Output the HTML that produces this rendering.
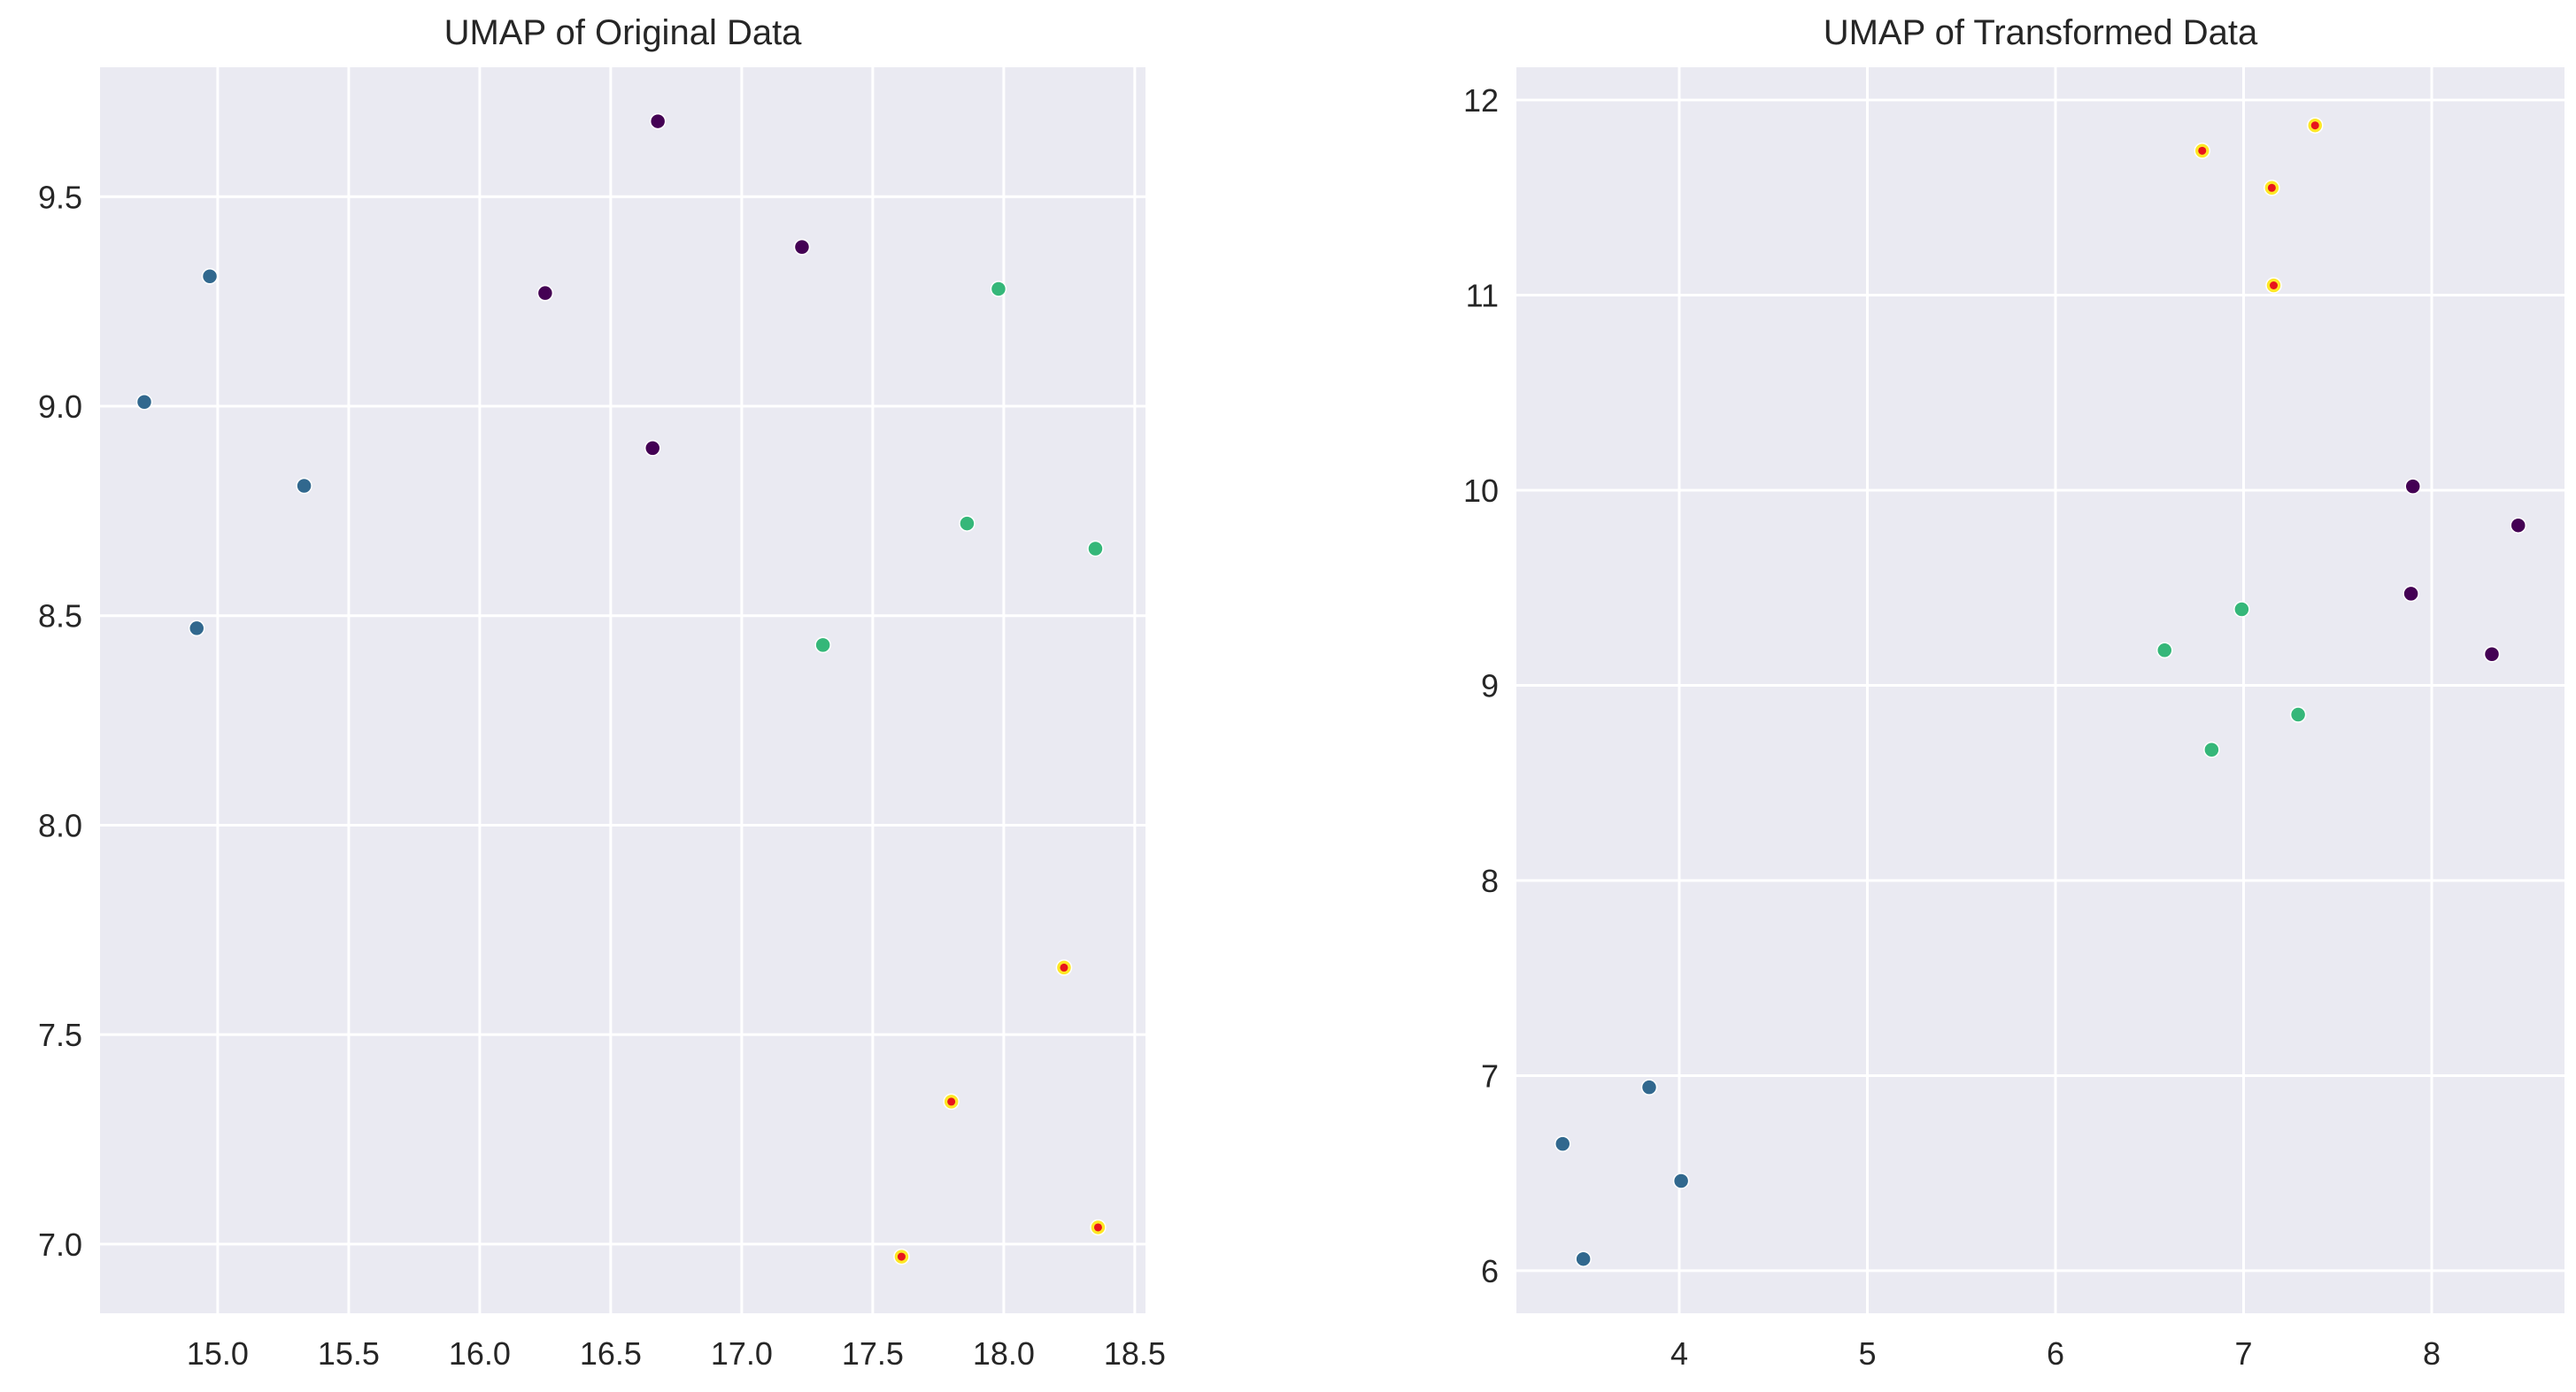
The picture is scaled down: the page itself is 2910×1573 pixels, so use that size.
<!DOCTYPE html>
<html><head><meta charset="utf-8">
<style>
html,body{margin:0;padding:0;background:#fff;}
svg{display:block;font-family:"Liberation Sans",sans-serif;}
</style></head>
<body>
<svg id="fig" width="2910" height="1573" viewBox="0 0 2910 1573" xmlns="http://www.w3.org/2000/svg"></svg>
<script>
// Left panel data
const leftXTicks = [15.0, 15.5, 16.0, 16.5, 17.0, 17.5, 18.0, 18.5];
const leftYTicks = [7.0, 7.5, 8.0, 8.5, 9.0, 9.5];
const leftXs = [14.72, 14.97, 15.33, 14.92, 16.68, 17.23, 16.25, 16.66, 17.98, 17.86, 18.35, 17.31, 18.23, 17.80, 18.36, 17.61];
const leftYs = [9.01, 9.31, 8.81, 8.47, 9.68, 9.38, 9.27, 8.90, 9.28, 8.72, 8.66, 8.43, 7.66, 7.34, 7.04, 6.97];
const leftCls = [1,1,1,1, 0,0,0,0, 2,2,2,2, 3,3,3,3];
// Right panel data
const rightXTicks = [4, 5, 6, 7, 8];
const rightYTicks = [6, 7, 8, 9, 10, 11, 12];
const rightXs = [6.78, 7.38, 7.15, 7.16, 7.90, 8.46, 7.89, 8.32, 6.99, 6.58, 7.29, 6.83, 3.38, 3.84, 4.01, 3.49];
const rightYs = [11.74, 11.87, 11.55, 11.05, 10.02, 9.82, 9.47, 9.16, 9.39, 9.18, 8.85, 8.67, 6.65, 6.94, 6.46, 6.06];
const rightCls = [3,3,3,3, 0,0,0,0, 2,2,2,2, 1,1,1,1];
const palette = ['#440154', '#31688e', '#35b779', '#fde725'];

const NS = 'http://www.w3.org/2000/svg';
const svg = document.getElementById('fig');
function mk(tag, attrs, parent) {
  const e = document.createElementNS(NS, tag);
  for (const k in attrs) e.setAttribute(k, attrs[k]);
  (parent || svg).appendChild(e);
  return e;
}
function panel(p) {
  const g = mk('g', {});
  
  
  const sx = v => p.x0 + (v - p.xmin) / (p.xmax - p.xmin) * (p.x1 - p.x0);
  const sy = v => p.y1 - (v - p.ymin) / (p.ymax - p.ymin) * (p.y1 - p.y0);
  const bg = mk('rect', {x: p.x0, y: p.y0, width: p.x1 - p.x0, height: p.y1 - p.y0, fill: '#eaeaf2'}, g);
  
  
  p.xt.forEach(t => {
    const x = sx(t);
    const l = mk('line', {x1: x, x2: x, y1: p.y0, y2: p.y1, stroke: '#fff', 'stroke-width': 3}, g);
    
    
    const tx = mk('text', {x: x, y: p.y1 + 58, 'text-anchor': 'middle', 'font-size': 36, fill: '#262626'}, g);
    
    
    tx.textContent = p.fmt(t);
  });
  p.yt.forEach(t => {
    const y = sy(t);
    const l = mk('line', {x1: p.x0, x2: p.x1, y1: y, y2: y, stroke: '#fff', 'stroke-width': 3}, g);
    
    
    const tx = mk('text', {x: p.x0 - 20, y: y + 13, 'text-anchor': 'end', 'font-size': 36, fill: '#262626'}, g);
    
    
    tx.textContent = p.fmt(t);
  });
  const title = mk('text', {x: (p.x0 + p.x1) / 2, y: 50, 'text-anchor': 'middle', 'font-size': 40, fill: '#262626'}, g);
  
  
  title.textContent = p.title;
  p.xs.forEach((xv, i) => {
    const c = p.cls[i];
    const pt = mk('circle', {cx: sx(xv), cy: sy(p.ys[i]), r: 8.5, fill: palette[c], stroke: '#fff', 'stroke-width': 1.5}, g);
    
    
    if (c === 3) {
      const inner = mk('circle', {cx: sx(xv), cy: sy(p.ys[i]), r: 4.5, fill: '#e8141c'}, g);
      
      
    }
  });
}
panel({name: 'left-panel', title: 'UMAP of Original Data', x0: 113, x1: 1294, y0: 76, y1: 1484,
  xmin: 14.551, xmax: 18.541, ymin: 6.835, ymax: 9.809, xt: leftXTicks, yt: leftYTicks,
  xs: leftXs, ys: leftYs, cls: leftCls, fmt: v => v.toFixed(1)});
panel({name: 'right-panel', title: 'UMAP of Transformed Data', x0: 1713, x1: 2897, y0: 76, y1: 1484,
  xmin: 3.134, xmax: 8.706, ymin: 5.782, ymax: 12.168, xt: rightXTicks, yt: rightYTicks,
  xs: rightXs, ys: rightYs, cls: rightCls, fmt: v => String(v)});
</script>
</body></html>
